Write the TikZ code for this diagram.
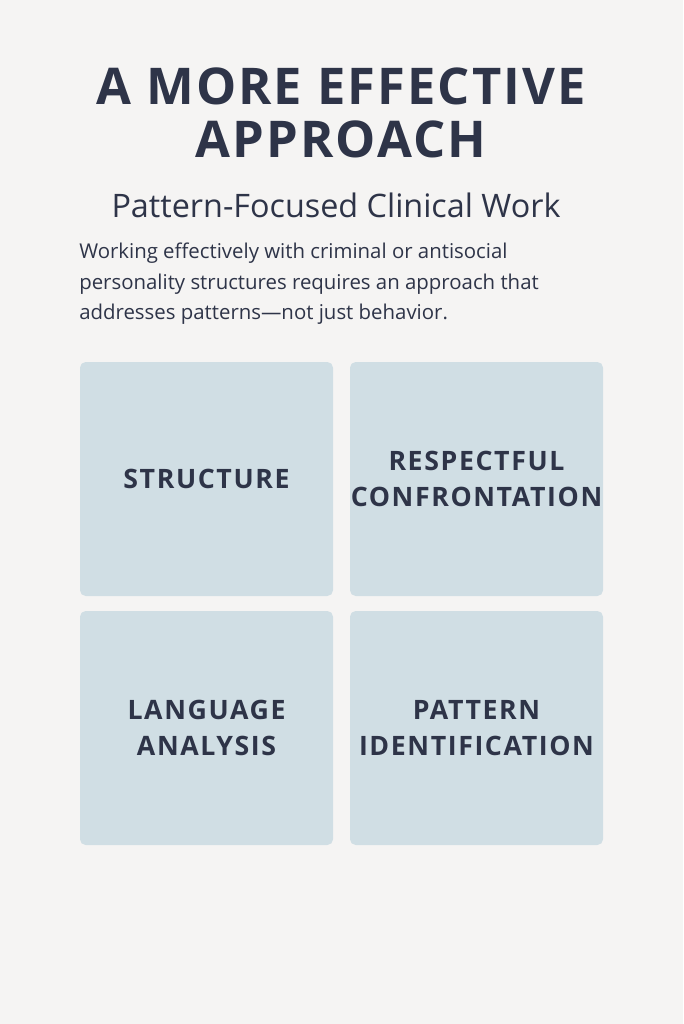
\documentclass[tikz,border=0pt]{standalone}
\usepackage{fontspec}
\setmainfont{Open Sans}
\usetikzlibrary{positioning}
\definecolor{bgcol}{HTML}{F5F4F3}
\definecolor{boxcol}{HTML}{D0DEE4}
\definecolor{inkcol}{HTML}{2E3448}
\begin{document}
\begin{tikzpicture}[x=0.025cm,y=-0.025cm,
  every node/.style={text=inkcol},
  tile/.style={fill=boxcol,rounded corners=4pt,draw=none},
  tilelabel/.style={align=center,font=\fontsize{19}{25}\selectfont\bfseries\addfontfeatures{LetterSpace=6}}]
  \fill[bgcol] (0,0) rectangle (683,1024);
  \useasboundingbox (0,0) rectangle (683,1024);

  % heading
  \node[align=center,font=\fontsize{36}{38}\selectfont\bfseries\addfontfeatures{LetterSpace=4}] (title) at (341,113) {A MORE EFFECTIVE\\APPROACH};
  \node[font=\fontsize{23}{28}\selectfont] (subtitle) at (336,205) {Pattern-Focused Clinical Work};
  \node[align=left,anchor=north west,inner sep=0pt,font=\fontsize{14.5}{21.5}\selectfont] (intro) at (79,243)
    {Working effectively with criminal or antisocial\\personality structures requires an approach that\\addresses patterns—not just behavior.};

  % tiles
  \foreach \name/\x/\y/\txt in {structure/80/362/STRUCTURE,
      confront/350/362/{RESPECTFUL\\CONFRONTATION},
      language/80/611/{LANGUAGE\\ANALYSIS},
      pattern/350/611/{PATTERN\\IDENTIFICATION}} {
    \fill[tile] (\x,\y) rectangle ++(253,234);
    \node[tilelabel] (\name) at (\x+126.5,\y+117) {\txt};
  }
\end{tikzpicture}
\end{document}
